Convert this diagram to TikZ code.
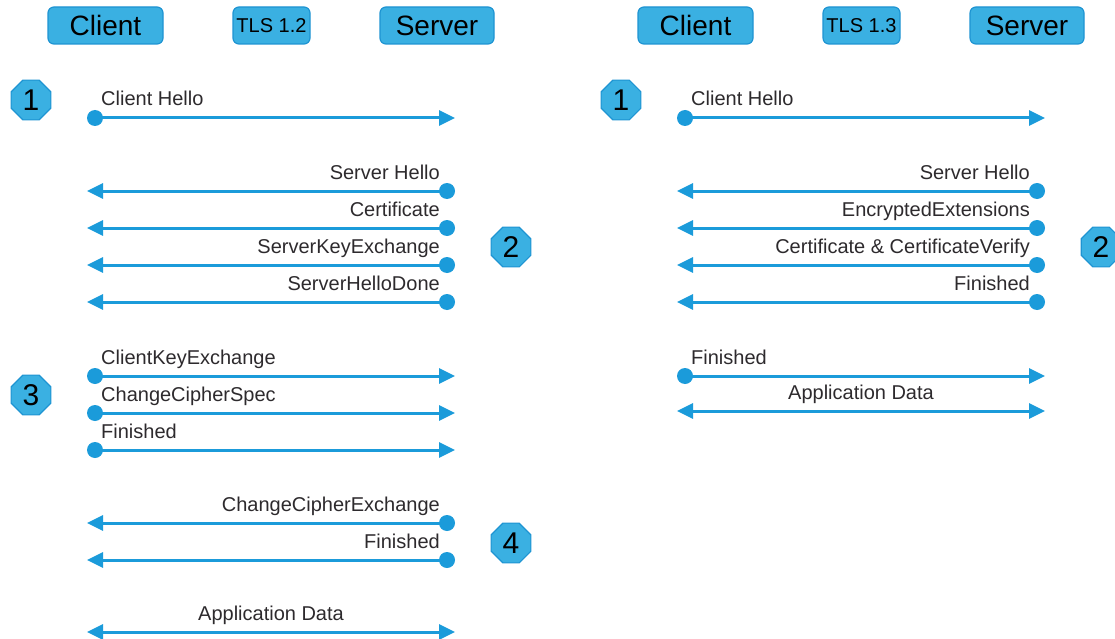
\documentclass[tikz,border=0pt]{standalone}
\usepackage{fontspec}
\setmainfont{Liberation Sans}
\usetikzlibrary{arrows.meta,shapes.geometric}

\definecolor{boxfill}{RGB}{58,176,226}
\definecolor{boxline}{RGB}{30,148,210}
\definecolor{msgcol}{RGB}{27,155,218}
\definecolor{txtcol}{RGB}{45,42,45}

\tikzset{
  header/.style={draw=boxline, fill=boxfill, line width=1.2pt, rounded corners=6pt,
    minimum height=37pt, inner sep=0pt, text=black},
  phase/.style={draw=boxline, fill=boxfill, line width=1.2pt, regular polygon,
    regular polygon sides=8, minimum size=43pt, inner sep=0pt, text=black,
    font=\fontsize{30}{30}\selectfont},
  msg/.style={draw=msgcol, line width=3pt, -{Triangle[length=16pt,width=15pt]}},
  both/.style={draw=msgcol, line width=3pt,
    {Triangle[length=16pt,width=15pt]}-{Triangle[length=16pt,width=15pt]}},
  lbl/.style={text=txtcol, inner sep=0pt, font=\fontsize{20}{24}\selectfont},
}

% client -> server message: x offset, y, label, name
\newcommand\cliToSrv[4]{%
  \coordinate (#4c) at (#1+95,#2);
  \coordinate (#4s) at (#1+455,#2);
  \draw[msg] (#4c) -- (#4s);
  \fill[msgcol] (#4c) circle (8);
  \node[lbl, anchor=base west] (#4t) at (#1+101,#2-12) {#3};}

% server -> client message: x offset, y, label, name
\newcommand\srvToCli[4]{%
  \coordinate (#4s) at (#1+447,#2);
  \coordinate (#4c) at (#1+87,#2);
  \draw[msg] (#4s) -- (#4c);
  \fill[msgcol] (#4s) circle (8);
  \node[lbl, anchor=base east] (#4t) at (#1+440,#2-12) {#3};}

% exchange in both directions: x offset, y, label, name
\newcommand\bothWays[4]{%
  \coordinate (#4c) at (#1+87,#2);
  \coordinate (#4s) at (#1+455,#2);
  \draw[both] (#4c) -- (#4s);
  \node[lbl, anchor=base] (#4t) at (#1+271,#2-12) {#3};}

\begin{document}
\begin{tikzpicture}[x=1pt, y=-1pt]
\useasboundingbox (0,0) rectangle (1115,639);

% ---------- TLS 1.2 ----------
\node[header, minimum width=115pt, font=\fontsize{28}{28}\selectfont] (cliA) at (105.5,25.5) {Client};
\node[header, minimum width=77pt, font=\fontsize{20}{20}\selectfont] (verA) at (271.5,25.5) {TLS 1.2};
\node[header, minimum width=114pt, font=\fontsize{28}{28}\selectfont] (srvA) at (437,25.5) {Server};

\node[phase] (pA1) at (31,100) {1};
\node[phase] (pA2) at (511,247) {2};
\node[phase] (pA3) at (31,395) {3};
\node[phase] (pA4) at (511,543) {4};

\cliToSrv{0}{118}{Client Hello}{a1}
\srvToCli{0}{191}{Server Hello}{a2}
\srvToCli{0}{228}{Certificate}{a3}
\srvToCli{0}{265}{ServerKeyExchange}{a4}
\srvToCli{0}{302}{ServerHelloDone}{a5}
\cliToSrv{0}{376}{ClientKeyExchange}{a6}
\cliToSrv{0}{413}{ChangeCipherSpec}{a7}
\cliToSrv{0}{450}{Finished}{a8}
\srvToCli{0}{523}{ChangeCipherExchange}{a9}
\srvToCli{0}{560}{Finished}{a10}
\bothWays{0}{632}{Application Data}{a11}

% ---------- TLS 1.3 ----------
\node[header, minimum width=115pt, font=\fontsize{28}{28}\selectfont] (cliB) at (695.5,25.5) {Client};
\node[header, minimum width=77pt, font=\fontsize{20}{20}\selectfont] (verB) at (861.5,25.5) {TLS 1.3};
\node[header, minimum width=114pt, font=\fontsize{28}{28}\selectfont] (srvB) at (1027,25.5) {Server};

\node[phase] (pB1) at (621,100) {1};
\node[phase] (pB2) at (1101,247) {2};

\cliToSrv{590}{118}{Client Hello}{b1}
\srvToCli{590}{191}{Server Hello}{b2}
\srvToCli{590}{228}{EncryptedExtensions}{b3}
\srvToCli{590}{265}{Certificate \& CertificateVerify}{b4}
\srvToCli{590}{302}{Finished}{b5}
\cliToSrv{590}{376}{Finished}{b6}
\bothWays{590}{411}{Application Data}{b7}
\end{tikzpicture}
\end{document}
